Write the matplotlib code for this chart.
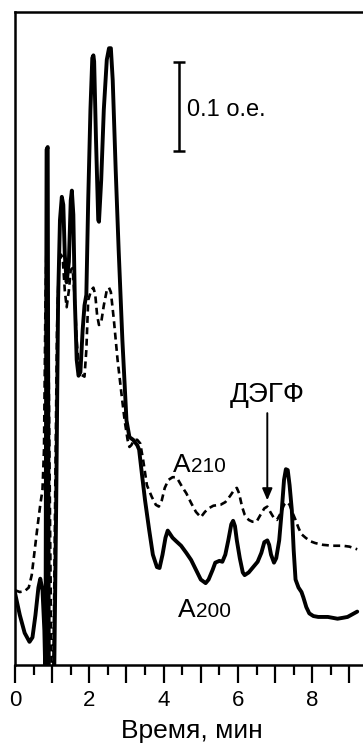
import matplotlib
matplotlib.use("Agg")
import matplotlib.pyplot as plt
import numpy as np

plt.rcParams["font.family"] = ["Liberation Sans", "DejaVu Sans"]
plt.rcParams["lines.scale_dashes"] = False

# A200 (solid) — time, min / absorbance, o.e.
t200 = [0.00, 0.13, 0.26, 0.39, 0.47, 0.55, 0.63, 0.68, 0.74, 0.79,
        0.82, 0.85, 0.88, 0.91, 0.97, 1.05, 1.11, 1.16, 1.21, 1.26,
        1.30, 1.34, 1.39, 1.45, 1.50, 1.53, 1.57, 1.61, 1.66, 1.71,
        1.76, 1.82, 1.87, 1.92, 1.97, 2.03, 2.08, 2.11, 2.13, 2.18,
        2.24, 2.26, 2.32, 2.39, 2.47, 2.53, 2.58, 2.63, 2.71, 2.79,
        2.89, 3.00, 3.08, 3.18, 3.29, 3.34, 3.42, 3.50, 3.61, 3.71,
        3.82, 3.89, 3.97, 4.05, 4.11, 4.16, 4.24, 4.34, 4.47, 4.61,
        4.74, 4.87, 5.00, 5.13, 5.21, 5.32, 5.39, 5.50, 5.58, 5.66,
        5.74, 5.82, 5.87, 5.92, 5.97, 6.05, 6.13, 6.18, 6.29, 6.39,
        6.53, 6.63, 6.71, 6.79, 6.84, 6.89, 6.97, 7.03, 7.11, 7.18,
        7.24, 7.29, 7.34, 7.39, 7.45, 7.50, 7.55, 7.63, 7.71, 7.76,
        7.84, 7.92, 8.03, 8.16, 8.29, 8.42, 8.55, 8.68, 8.82, 8.95,
        9.08, 9.21]
a200 = [0.081, 0.056, 0.036, 0.026, 0.031, 0.056, 0.087, 0.097, 0.084, 0.039,
        -0.017, 0.579, 0.582, -0.017, -0.028, -0.028, 0.185, 0.410, 0.500, 0.526,
        0.517, 0.461, 0.430, 0.453, 0.522, 0.533, 0.506, 0.410, 0.343, 0.325,
        0.329, 0.376, 0.404, 0.416, 0.522, 0.624, 0.682, 0.685, 0.678, 0.590,
        0.500, 0.498, 0.545, 0.624, 0.680, 0.693, 0.693, 0.657, 0.556, 0.466,
        0.365, 0.275, 0.256, 0.253, 0.247, 0.242, 0.213, 0.185, 0.152, 0.124,
        0.110, 0.109, 0.124, 0.143, 0.151, 0.148, 0.143, 0.139, 0.134, 0.126,
        0.118, 0.107, 0.096, 0.092, 0.096, 0.107, 0.115, 0.117, 0.116, 0.124,
        0.140, 0.158, 0.162, 0.156, 0.140, 0.120, 0.104, 0.101, 0.104, 0.109,
        0.116, 0.126, 0.138, 0.140, 0.135, 0.124, 0.115, 0.120, 0.140, 0.174,
        0.208, 0.220, 0.219, 0.202, 0.174, 0.129, 0.096, 0.087, 0.082, 0.076,
        0.065, 0.058, 0.055, 0.054, 0.054, 0.054, 0.053, 0.052, 0.053, 0.054,
        0.057, 0.060]

# A210 (dashed)
t210 = [0.00, 0.13, 0.26, 0.37, 0.45, 0.53, 0.61, 0.68, 0.74, 0.78,
        0.82, 0.86, 0.89, 0.95, 0.99, 1.03, 1.08, 1.13, 1.18, 1.24,
        1.29, 1.34, 1.39, 1.45, 1.50, 1.55, 1.61, 1.66, 1.71, 1.79,
        1.87, 1.92, 1.97, 2.05, 2.11, 2.16, 2.21, 2.26, 2.32, 2.39,
        2.47, 2.53, 2.58, 2.66, 2.76, 2.87, 2.95, 3.03, 3.08, 3.13,
        3.21, 3.29, 3.37, 3.45, 3.55, 3.68, 3.79, 3.87, 3.95, 4.03,
        4.13, 4.24, 4.32, 4.39, 4.50, 4.61, 4.74, 4.87, 5.00, 5.11,
        5.21, 5.34, 5.53, 5.66, 5.79, 5.92, 5.97, 6.03, 6.11, 6.18,
        6.29, 6.39, 6.50, 6.61, 6.71, 6.79, 6.87, 6.97, 7.05, 7.13,
        7.24, 7.32, 7.39, 7.47, 7.55, 7.63, 7.71, 7.82, 7.95, 8.08,
        8.29, 8.55, 8.82, 9.00, 9.21]
a210 = [0.084, 0.082, 0.083, 0.087, 0.101, 0.129, 0.157, 0.180, 0.197, 0.242,
        0.410, 0.500, 0.410, 0.129, -0.028, -0.028, 0.185, 0.376, 0.449, 0.461,
        0.453, 0.421, 0.402, 0.421, 0.444, 0.446, 0.410, 0.365, 0.337, 0.326,
        0.324, 0.354, 0.410, 0.421, 0.424, 0.416, 0.393, 0.382, 0.385, 0.404,
        0.421, 0.424, 0.419, 0.388, 0.343, 0.303, 0.275, 0.253, 0.245, 0.247,
        0.253, 0.253, 0.249, 0.230, 0.202, 0.189, 0.180, 0.178, 0.185, 0.199,
        0.208, 0.211, 0.211, 0.208, 0.200, 0.193, 0.182, 0.172, 0.166, 0.172,
        0.176, 0.179, 0.180, 0.183, 0.190, 0.198, 0.199, 0.193, 0.178, 0.169,
        0.163, 0.161, 0.161, 0.169, 0.176, 0.178, 0.172, 0.165, 0.163, 0.169,
        0.180, 0.183, 0.180, 0.171, 0.163, 0.154, 0.147, 0.143, 0.139, 0.137,
        0.135, 0.134, 0.134, 0.133, 0.130]

x_major = np.arange(0, 10, 1)
x_minor = np.arange(0.5, 9.6, 1)
x_labels = ["0", "", "2", "", "4", "", "6", "", "8", ""]

fig = plt.figure(figsize=(3.63, 7.49), dpi=100)
ax = fig.add_axes([15 / 363, 84 / 749, 353 / 363, 653 / 749])

ax.plot(t210, a210, color="black", lw=1.9, linestyle=(0, (5.0, 3.2)),
        solid_joinstyle="round")
ax.plot(t200, a200, color="black", lw=2.8, solid_joinstyle="round",
        solid_capstyle="round")

ax.set_xlim(0, 9.29)
ax.set_ylim(0, 0.7337)

ax.set_xticks(x_major)
ax.set_xticklabels(x_labels, fontsize=16)
ax.set_xticks(x_minor, minor=True)
ax.tick_params(axis="x", which="major", length=13, width=1.6, direction="out", pad=5)
ax.tick_params(axis="x", which="minor", length=7, width=1.6, direction="out")
ax.set_yticks([])
for s in ["left", "bottom", "top"]:
    ax.spines[s].set_linewidth(1.8)
ax.spines["right"].set_visible(False)

ax.set_xlabel("Время, мин", fontsize=19, labelpad=6)

# scale bar 0.1 o.e.
ax.errorbar([4.42], [0.6275], yerr=[0.05], color="black", lw=1.8,
            capsize=4, capthick=1.8)
ax.text(4.63, 0.6236, "0.1 о.е.", fontsize=17, ha="left", va="center")

# DEGF marker
ax.text(6.79, 0.303, "ДЭГФ", fontsize=20, ha="center", va="center")
ax.annotate("", xy=(6.79, 0.185), xytext=(6.79, 0.283),
            arrowprops=dict(arrowstyle="-|>,head_length=0.7,head_width=0.3",
                            color="black", lw=1.4, shrinkA=0, shrinkB=0))

# series labels
ax.text(4.24, 0.2169, "A", fontsize=19, ha="left", va="baseline")
ax.text(4.74, 0.2169, "210", fontsize=15, ha="left", va="baseline")
ax.text(4.39, 0.0539, "A", fontsize=19, ha="left", va="baseline")
ax.text(4.87, 0.0539, "200", fontsize=15, ha="left", va="baseline")

fig.savefig("out.png", dpi=100)
